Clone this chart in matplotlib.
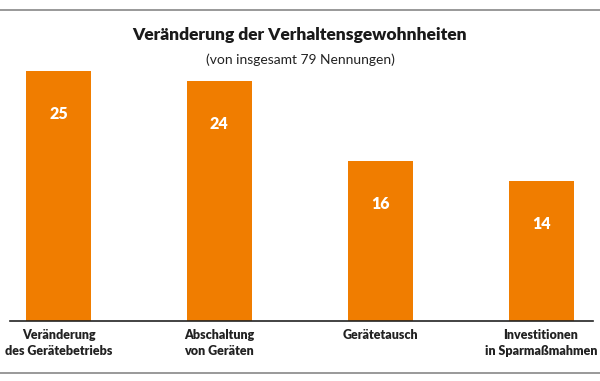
import matplotlib.pyplot as plt
from matplotlib.lines import Line2D

categories = ["Veränderung\ndes Gerätebetriebs", "Abschaltung\nvon Geräten",
              "Gerätetausch", "Investitionen\nin Sparmaßmahmen"]
values = [25, 24, 16, 14]
title = "Veränderung der Verhaltensgewohnheiten"
subtitle = "(von insgesamt 79 Nennungen)"

plt.rcParams['font.family'] = ['Lato', 'DejaVu Sans']

fig = plt.figure(figsize=(6, 3.81), dpi=100)
ax = fig.add_axes([10 / 600, 60 / 381, 583 / 600, 250 / 381])

x = list(range(len(values)))
ax.bar(x, values, width=0.404, color='#f07d00')
for xi, v in zip(x, values):
    ax.text(xi, v - 4.3, str(v), ha='center', va='center', color='white',
            fontsize=11.5, fontweight='heavy')

ax.set_xlim(-0.3016, 3.323)
ax.set_ylim(0, 25)
for s in ['top', 'right', 'left']:
    ax.spines[s].set_visible(False)
ax.spines['bottom'].set_color('#222222')
ax.spines['bottom'].set_linewidth(1.2)
ax.set_yticks([])
ax.set_xticks(x)
ax.set_xticklabels(categories, fontsize=9, fontweight='heavy', color='#222222',
                   linespacing=1.35)
ax.tick_params(axis='x', length=0, pad=6)

fig.text(0.5, 1 - 35 / 381, title, ha='center', va='center', fontsize=12.5,
         fontweight='heavy', color='#1a1a1a')
fig.text(0.5, 1 - 60 / 381, subtitle, ha='center', va='center', fontsize=10,
         color='#222222')

fig.add_artist(Line2D([0, 1], [1 - 10 / 381, 1 - 10 / 381], color='#888888',
                      linewidth=1.2, transform=fig.transFigure))
fig.add_artist(Line2D([0, 1], [1 - 373 / 381, 1 - 373 / 381], color='#888888',
                      linewidth=1.2, transform=fig.transFigure))

fig.savefig('out.png', dpi=100)
